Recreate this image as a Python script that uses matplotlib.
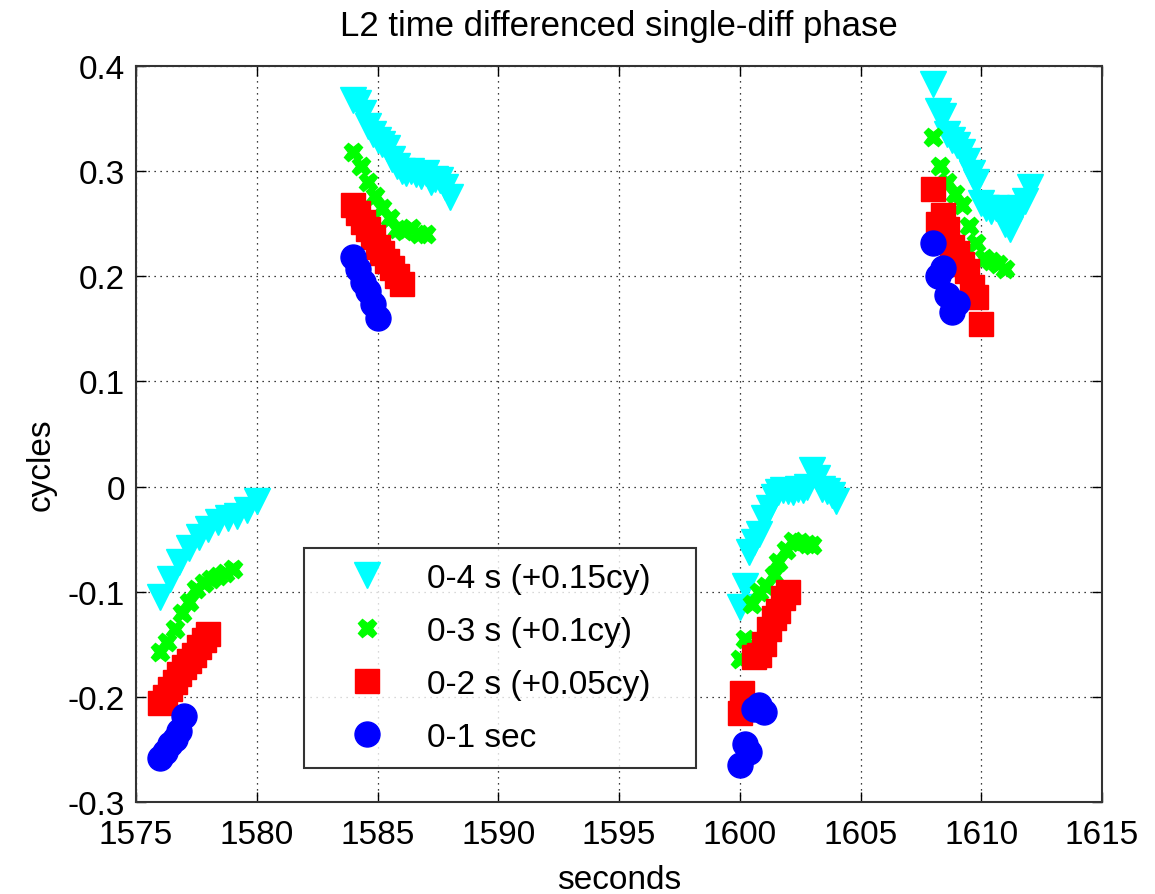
import matplotlib
matplotlib.use("Agg")
import matplotlib.pyplot as plt

plt.rcParams['font.family'] = ['Liberation Sans', 'DejaVu Sans']

# time offsets (s) and phase (cycles), four bursts each
# 0-1 sec
t_1s = [1576.0, 1576.2, 1576.4, 1576.6, 1576.8, 1577.0,
        1584.0, 1584.2, 1584.4, 1584.6, 1584.8, 1585.0,
        1600.0, 1600.2, 1600.4, 1600.6, 1600.8, 1601.0,
        1608.0, 1608.2, 1608.4, 1608.6, 1608.8, 1609.0]
y_1s = [-0.258, -0.252, -0.245, -0.240, -0.232, -0.218,
        0.218, 0.207, 0.195, 0.186, 0.174, 0.160,
        -0.265, -0.245, -0.252, -0.212, -0.208, -0.214,
        0.232, 0.200, 0.208, 0.182, 0.166, 0.175]

# 0-2 s (+0.05cy)
t_2s = [1576.0, 1576.2, 1576.4, 1576.6, 1576.8, 1577.0, 1577.2, 1577.4, 1577.6, 1577.8, 1578.0,
        1584.0, 1584.2, 1584.4, 1584.6, 1584.8, 1585.0, 1585.2, 1585.4, 1585.6, 1585.8, 1586.0,
        1600.0, 1600.1, 1600.6, 1600.8, 1601.0, 1601.2, 1601.4, 1601.6, 1601.8, 1602.0,
        1608.0, 1608.2, 1608.4, 1608.6, 1608.8, 1609.0, 1609.2, 1609.4, 1609.6, 1609.8, 1610.0]
y_2s = [-0.206, -0.200, -0.193, -0.186, -0.178, -0.172, -0.166, -0.160, -0.153, -0.146, -0.140,
        0.268, 0.260, 0.252, 0.245, 0.237, 0.228, 0.222, 0.215, 0.208, 0.200, 0.193,
        -0.215, -0.196, -0.162, -0.160, -0.150, -0.135, -0.125, -0.118, -0.106, -0.100,
        0.283, 0.250, 0.258, 0.245, 0.228, 0.222, 0.212, 0.205, 0.190, 0.180, 0.155]

# 0-3 s (+0.1cy)
t_3s = [1576.0, 1576.3, 1576.6, 1576.9, 1577.2, 1577.5, 1577.8, 1578.1, 1578.4, 1578.7, 1579.0,
        1584.0, 1584.3, 1584.6, 1584.9, 1585.2, 1585.5, 1585.8, 1586.1, 1586.4, 1586.7, 1587.0,
        1600.0, 1600.2, 1600.5, 1600.8, 1601.1, 1601.4, 1601.6, 1601.9, 1602.2, 1602.5, 1602.8, 1603.0,
        1608.0, 1608.3, 1608.6, 1608.9, 1609.2, 1609.5, 1609.8, 1610.1, 1610.4, 1610.7, 1611.0]
y_3s = [-0.157, -0.148, -0.135, -0.120, -0.110, -0.097, -0.092, -0.088, -0.085, -0.082, -0.078,
        0.318, 0.305, 0.290, 0.276, 0.265, 0.255, 0.245, 0.243, 0.246, 0.240, 0.240,
        -0.164, -0.145, -0.112, -0.100, -0.095, -0.084, -0.072, -0.060, -0.052, -0.053, -0.055, -0.056,
        0.332, 0.305, 0.290, 0.278, 0.268, 0.248, 0.232, 0.217, 0.215, 0.212, 0.207]

# 0-4 s (+0.15cy)
t_4s = [1576.0, 1576.4, 1576.8, 1577.2, 1577.6, 1578.0, 1578.4, 1578.8, 1579.2, 1579.6, 1580.0,
        1584.0, 1584.2, 1584.4, 1584.6, 1584.8, 1585.0, 1585.2, 1585.4, 1585.6, 1585.8, 1586.0,
        1586.2, 1586.4, 1586.6, 1586.8, 1587.0, 1587.2, 1587.4, 1587.6, 1587.8, 1588.0,
        1600.0, 1600.2, 1600.4, 1600.6, 1600.8, 1601.0, 1601.2, 1601.4, 1601.6, 1601.8, 1602.0,
        1602.2, 1602.4, 1602.6, 1602.8, 1603.0, 1603.2, 1603.4, 1603.6, 1603.8, 1604.0,
        1608.0, 1608.2, 1608.4, 1608.6, 1608.8, 1609.0, 1609.2, 1609.4, 1609.6, 1609.8, 1610.0,
        1610.2, 1610.4, 1610.6, 1610.8, 1611.0, 1611.2, 1611.4, 1611.6, 1611.8, 1612.0]
y_4s = [-0.105, -0.088, -0.072, -0.058, -0.048, -0.040, -0.034, -0.030, -0.028, -0.022, -0.014,
        0.368, 0.365, 0.355, 0.343, 0.335, 0.330, 0.326, 0.322, 0.312, 0.305, 0.300,
        0.298, 0.300, 0.297, 0.295, 0.298, 0.290, 0.293, 0.292, 0.285, 0.275,
        -0.115, -0.095, -0.062, -0.053, -0.045, -0.030, -0.020, -0.010, -0.005, -0.003, -0.004,
        -0.005, -0.002, -0.003, 0.000, 0.016, 0.008, -0.002, -0.004, -0.008, -0.014,
        0.383, 0.357, 0.352, 0.335, 0.330, 0.325, 0.318, 0.310, 0.298, 0.290, 0.270,
        0.265, 0.262, 0.265, 0.262, 0.250, 0.245, 0.260, 0.265, 0.272, 0.285]

series = [
    (t_4s, y_4s, 'v', 'cyan', 19, '0-4 s (+0.15cy)'),
    (t_3s, y_3s, 'X', 'lime', 13, '0-3 s (+0.1cy)'),
    (t_2s, y_2s, 's', 'red', 17, '0-2 s (+0.05cy)'),
    (t_1s, y_1s, 'o', 'blue', 18, '0-1 sec'),
]

FS = 24

fig = plt.figure(figsize=(11.55, 8.95), dpi=100)
ax = fig.add_axes([136 / 1155, 92 / 895, 966 / 1155, 736 / 895])

for t, y, mk, col, ms, lab in series:
    ax.plot(t, y, linestyle='none', marker=mk, color=col, markersize=ms,
            markeredgecolor=col, markerfacecolor=col, label=lab)

ax.set_xlim(1575, 1615)
ax.set_ylim(-0.3, 0.4)
ax.set_xticks(range(1575, 1616, 5))
ax.set_yticks([-0.3, -0.2, -0.1, 0, 0.1, 0.2, 0.3, 0.4])
ax.set_yticklabels(['-0.3', '-0.2', '-0.1', '0', '0.1', '0.2', '0.3', '0.4'])
ax.grid(True, linestyle=(0, (1, 3.8)), color='k', linewidth=0.9)
ax.tick_params(direction='in', length=7, width=1, top=True, right=True, labelsize=FS)
ax.tick_params(axis='x', pad=12)
ax.tick_params(axis='y', pad=8)
for sp in ax.spines.values():
    sp.set_linewidth(1.5)
    sp.set_color('#333333')

ax.set_title('L2 time differenced single-diff phase', fontsize=25, pad=22)
ax.set_xlabel('seconds', fontsize=FS, labelpad=10)
ax.set_ylabel('cycles', fontsize=FS)
ax.yaxis.set_label_coords(-0.082, 0.46)

leg = ax.legend(loc='lower left', bbox_to_anchor=(0.174, 0.046, 0.406, 0.299),
                mode='expand', borderaxespad=0, fontsize=FS, frameon=True,
                fancybox=False, edgecolor='k', borderpad=0.45, labelspacing=0.66,
                handletextpad=0.35, handlelength=2.9)
leg.get_frame().set_linewidth(1.5)

fig.savefig('out.png', dpi=100)
